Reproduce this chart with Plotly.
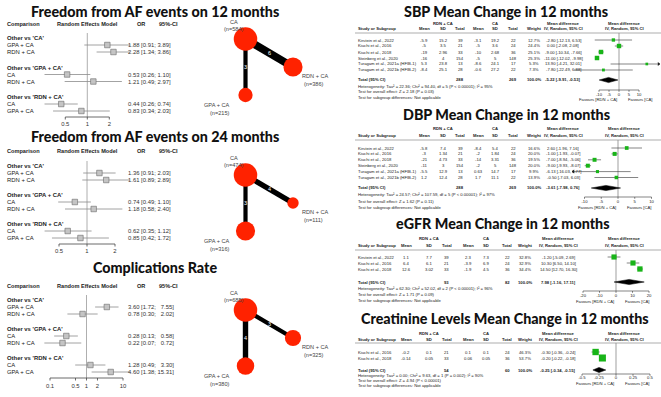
import math
import plotly.graph_objects as go

W, H = 661, 397

# ---------------- data: left forest plots (network meta-analysis) ----------------
comparison_groups = ["Other vs 'CA'", "Other vs 'GPA + CA'", "Other vs 'RDN + CA'"]
comparison_rows = [["GPA + CA", "RDN + CA"], ["CA", "RDN + CA"], ["CA", "GPA + CA"]]

af12_title = "Freedom from AF events on 12 months"
af12_or = [1.88, 2.28, 0.53, 1.21, 0.44, 0.83]
af12_lo = [0.91, 1.34, 0.26, 0.49, 0.26, 0.34]
af12_hi = [3.89, 3.86, 1.10, 2.97, 0.74, 2.03]
af12_ticks = [0.5, 1, 2]

af24_title = "Freedom from AF events on 24 months"
af24_or = [1.36, 1.61, 0.74, 1.18, 0.62, 0.85]
af24_lo = [0.91, 0.89, 0.49, 0.58, 0.35, 0.42]
af24_hi = [2.03, 2.89, 1.10, 2.40, 1.12, 1.72]
af24_ticks = [0.5, 1, 2]

comp_title = "Complications Rate"
comp_or = [3.60, 0.78, 0.28, 0.22, 1.28, 4.60]
comp_lo = [1.72, 0.30, 0.13, 0.07, 0.49, 1.38]
comp_hi = [7.55, 2.02, 0.58, 0.72, 3.30, 15.31]
comp_ticks = [0.1, 0.5, 1, 2, 10]

# ---------------- data: network graphs ----------------
treatments = ["CA", "RDN + CA", "GPA + CA"]
af12_n = [584, 386, 215]
af12_studies = [6, 3]   # CA - RDN + CA, CA - GPA + CA
af24_n = [474, 111, 316]
af24_studies = [4, 3]
comp_n = [685, 325, 380]
comp_studies = [3, 4]

# ---------------- data: right pairwise forest plots ----------------
sbp_title = "SBP Mean Change in 12 months"
sbp_studies = ["Kirstein et al., 2022", "Kiuchi et al., 2016", "Kiuchi et al., 2018",
               "Steinberg et al., 2020", "Turagam et al., 2021a (HFIB-1)", "Turagam et al., 2021b (HFIB-2)"]
sbp_rdn_mean = [-5.9, -5, -19, -16, 5.3, -8.4]
sbp_rdn_sd = [15.2, 3.5, 2.96, 4, 23.8, 25.1]
sbp_rdn_n = [39, 21, 33, 154, 13, 28]
sbp_ca_mean = [-3.1, -5, -10, -5, -8.6, -0.6]
sbp_ca_sd = [19.2, 3.6, 2.68, 5, 24.1, 27.2]
sbp_ca_n = [22, 24, 36, 148, 17, 22]
sbp_weight = [12.7, 24.4, 25.1, 25.3, 5.3, 7.3]
sbp_md = [-2.80, 0.00, -9.00, -11.00, 13.90, -7.80]
sbp_lo = [-12.13, -2.08, -10.34, -12.02, -4.21, -22.49]
sbp_hi = [6.53, 2.08, -7.66, -9.98, 32.01, 6.88]
sbp_total = [-5.22, -9.91, -0.53]
sbp_het = "Heterogeneity: Tau² = 22.36; Chi² = 94.40, df = 5 (P < 0.00001); I² = 95%"
sbp_z = "Test for overall effect: Z = 2.18 (P = 0.03)"
sbp_ticks = [-10, -5, 0, 5, 10]

dbp_title = "DBP Mean Change in 12 months"
dbp_studies = sbp_studies
dbp_rdn_mean = [-5.8, -3, -21, -11, -5.5, 1.2]
dbp_rdn_sd = [7.4, 1.34, 4.73, 3, 12.9, 12.4]
dbp_rdn_n = [39, 21, 33, 154, 13, 28]
dbp_ca_mean = [-8.4, -2, -14, -2, 0.63, 1.7]
dbp_ca_sd = [5.4, 1.84, 3.31, 5, 14.7, 11.1]
dbp_ca_n = [22, 24, 36, 148, 17, 22]
dbp_weight = [16.6, 20.0, 19.5, 20.0, 9.9, 13.9]
dbp_md = [2.60, -1.00, -7.00, -9.00, -6.13, -0.50]
dbp_lo = [-1.96, -1.93, -8.94, -9.93, -16.03, -7.03]
dbp_hi = [7.16, -0.07, -5.06, -8.07, 3.77, 6.03]
dbp_total = [-3.61, -7.98, 0.76]
dbp_het = "Heterogeneity: Tau² = 24.57; Chi² = 107.59, df = 5 (P < 0.00001); I² = 97%"
dbp_z = "Test for overall effect: Z = 1.62 (P = 0.11)"
dbp_ticks = [-10, -5, 0, 5, 10]

egfr_title = "eGFR Mean Change in 12 months"
egfr_studies = ["Kirstein et al., 2022", "Kiuchi et al., 2016", "Kiuchi et al., 2018"]
egfr_rdn_mean = [1.1, 6.4, 12.6]
egfr_rdn_sd = [7.7, 6.1, 3.02]
egfr_rdn_n = [39, 21, 33]
egfr_ca_mean = [2.3, -3.9, -1.9]
egfr_ca_sd = [7.3, 6.9, 4.5]
egfr_ca_n = [22, 24, 36]
egfr_weight = [32.8, 32.9, 34.4]
egfr_md = [-1.20, 10.30, 14.50]
egfr_lo = [-5.09, 6.50, 12.70]
egfr_hi = [2.69, 14.10, 16.30]
egfr_total = [7.98, -1.16, 17.11]
egfr_het = "Heterogeneity: Tau² = 62.30; Chi² = 52.02, df = 2 (P < 0.00001); I² = 96%"
egfr_z = "Test for overall effect: Z = 1.71 (P = 0.09)"
egfr_ticks = [-20, -10, 0, 10, 20]

crea_title = "Creatinine Levels Mean Change in 12 months"
crea_studies = ["Kiuchi et al., 2016", "Kiuchi et al., 2018"]
crea_rdn_mean = [-0.2, -0.14]
crea_rdn_sd = [0.1, 0.05]
crea_rdn_n = [21, 33]
crea_ca_mean = [0.1, 0.06]
crea_ca_sd = [0.1, 0.05]
crea_ca_n = [24, 36]
crea_weight = [46.3, 53.7]
crea_md = [-0.30, -0.20]
crea_lo = [-0.36, -0.22]
crea_hi = [-0.24, -0.18]
crea_total = [-0.25, -0.34, -0.15]
crea_het = "Heterogeneity: Tau² = 0.00; Chi² = 9.63, df = 1 (P = 0.002); I² = 90%"
crea_z = "Test for overall effect: Z = 4.94 (P < 0.00001)"
crea_ticks = [-0.5, -0.25, 0, 0.25, 0.5]

# ---------------- drawing helpers ----------------
SMALL = "Liberation Sans, Arial, sans-serif"
TITLE = "Lato, Open Sans, sans-serif"
fig = go.Figure()
anns = []
shapes = []
layout_axes = {}


def A(x, y, text, size=6, bold=False, align="left", color="#222", family=SMALL, xref="paper", yref="paper"):
    ax = x / W if xref == "paper" else x
    ay = 1 - y / H if yref == "paper" else y
    w = bold if isinstance(bold, int) and not isinstance(bold, bool) else (700 if bold else 400)
    anns.append(dict(x=ax, y=ay, xref=xref, yref=yref, text=text, showarrow=False,
                     xanchor=align, yanchor="middle", borderpad=0,
                     font=dict(size=size, color=color, family=family, weight=w)))


def hline(x0, x1, y, color="#888", width=0.6):
    shapes.append(dict(type="line", xref="paper", yref="paper", x0=x0 / W, x1=x1 / W,
                       y0=1 - y / H, y1=1 - y / H, line=dict(color=color, width=width)))


def seg_trace(xs0, xs1, ys0, ys1, ax, color, width):
    xx, yy = [], []
    for a, b, c, d in zip(xs0, xs1, ys0, ys1):
        xx += [a, b, None]
        yy += [c, d, None]
    fig.add_trace(go.Scatter(x=xx, y=yy, xaxis=ax, yaxis="y", mode="lines",
                             line=dict(color=color, width=width), hoverinfo="skip", showlegend=False))


# ---------------- left forest plots ----------------
LX0, LX1 = 28, 152


def left_forest(axn, title, ors, los, his, ticks, P):
    ax = f"x{axn}"
    one, ppd = P["one"], P["ppd"]
    layout_axes[f"xaxis{axn}"] = dict(domain=[LX0 / W, LX1 / W], type="log",
                                      range=[(LX0 - one) / ppd, (LX1 - one) / ppd],
                                      visible=False, fixedrange=True)
    A(155, P["title"], title, 14.3, 900, "center", "#111", TITLE)
    A(6, P["hdr"], "Comparison", 5.6, True)
    A(87, P["hdr"], "Random Effects Model", 5.6, True, "center")
    A(141, P["hdr"], "OR", 5.6, True, "center")
    A(168, P["hdr"], "95%-CI", 5.6, True, "center")
    wid = max(len(f"{h:.2f}") for h in his)
    rows_y = []
    for g, gname in enumerate(comparison_groups):
        gy = P["groups"][g]
        A(6, gy, gname, 5.9, True)
        for k, lab in enumerate(comparison_rows[g]):
            y = gy + 7 * (k + 1)
            i = 2 * g + k
            rows_y.append(y)
            A(6, y, lab, 5.9)
            hs = f"{his[i]:.2f}"
            hs = " " * (wid - len(hs)) * 2 + hs
            A(127, y, f"{ors[i]:.2f} [{los[i]:.2f}; {hs}]", 5.9, color="#333")
    # reference line at OR = 1
    seg_trace([1], [1], [P["groups"][0] - 5], [P["axis"]], ax, "#9a9a9a", 0.8)
    # confidence intervals
    seg_trace(los, his, rows_y, rows_y, ax, "#8c8c8c", 0.8)
    # point estimates
    fig.add_trace(go.Scatter(x=ors, y=rows_y, xaxis=ax, yaxis="y", mode="markers",
                             marker=dict(symbol="square", size=5.5, color="#c4c4c4", opacity=1,
                                         line=dict(color="#6a6a6a", width=0.6)),
                             hoverinfo="skip", showlegend=False))
    # axis
    ay = P["axis"]
    seg_trace([ticks[0]], [ticks[-1]], [ay], [ay], ax, "#444", 0.8)
    seg_trace(ticks, ticks, [ay] * len(ticks), [ay + 2.5] * len(ticks), ax, "#444", 0.8)
    fig.add_trace(go.Scatter(x=ticks, y=[P["tick"]] * len(ticks), xaxis=ax, yaxis="y", mode="text",
                             text=[f"{t:g}" for t in ticks], textposition="middle center",
                             textfont=dict(size=5.9, color="#333", family=SMALL),
                             hoverinfo="skip", showlegend=False))


left_forest(2, af12_title, af12_or, af12_lo, af12_hi, af12_ticks,
            dict(title=12, hdr=24, groups=[38, 67.5, 97], axis=117, tick=125, one=87.3, ppd=73.1))
left_forest(3, af24_title, af24_or, af24_lo, af24_hi, af24_ticks,
            dict(title=137, hdr=151, groups=[166, 195, 224], axis=244, tick=252, one=87, ppd=93))
left_forest(4, comp_title, comp_or, comp_lo, comp_hi, comp_ticks,
            dict(title=267, hdr=286, groups=[300, 329, 358], axis=378, tick=387, one=86.5, ppd=36.5))

# ---------------- network graphs (pixel axis "x") ----------------
layout_axes["xaxis"] = dict(domain=[0, 1], range=[0, W], visible=False, fixedrange=True)


def network(n, studies, cy):
    pos = [(245.5, cy), (293, cy + 28), (245.5, cy + 56)]
    nmax = max(n)
    for e, j in zip(studies, [1, 2]):
        seg_trace([pos[0][0]], [pos[j][0]], [pos[0][1]], [pos[j][1]], "x", "#000", 1.2 * e + 0.6)
    fig.add_trace(go.Scatter(x=[p[0] for p in pos], y=[p[1] for p in pos], xaxis="x", yaxis="y",
                             mode="markers",
                             marker=dict(size=[23.5 * math.sqrt(v / nmax) for v in n], color="#ff2200",
                                         opacity=1, line=dict(width=0)),
                             hoverinfo="skip", showlegend=False))
    for e, j in zip(studies, [1, 2]):
        mx = (pos[0][0] + pos[j][0]) / 2
        my = (pos[0][1] + pos[j][1]) / 2
        A(mx, my, str(e), 5.5, False, "center", "#ffffff", SMALL, "x", "y")
    # node labels
    A(234, cy - 17.5, treatments[0], 5.6, False, "center", "#444", SMALL, "x", "y")
    A(234, cy - 10.5, f"(n={n[0]})", 5.6, False, "center", "#444", SMALL, "x", "y")
    A(301, cy + 37, treatments[1], 5.6, False, "left", "#444", SMALL, "x", "y")
    A(303, cy + 45, f"(n={n[1]})", 5.6, False, "left", "#444", SMALL, "x", "y")
    A(231, cy + 65.5, treatments[2], 5.6, False, "right", "#444", SMALL, "x", "y")
    A(231, cy + 73.5, f"(n={n[2]})", 5.6, False, "right", "#444", SMALL, "x", "y")


network(af12_n, af12_studies, 39)
network(af24_n, af24_studies, 175)
network(comp_n, comp_studies, 310)

# ---------------- right pairwise forest plots ----------------
RX0, RX1 = 572, 660
COLS_A = [424, 443, 460, 478, 495, 513, 534, 563]
COLS_B = [406, 429, 447, 468, 486, 507, 525, 558]


def right_forest(axn, title, studies, rm, rs, rn, cm, cs, cn, wt, md, lo, hi, tot, het, z, ticks, P):
    ax = f"x{axn}"
    zero, ppu = P["zero"], P["ppu"]
    r0, r1 = (RX0 - zero) / ppu, (RX1 - zero) / ppu
    layout_axes[f"xaxis{axn}"] = dict(domain=[RX0 / W, RX1 / W], range=[r0, r1],
                                      visible=False, fixedrange=True)
    C = P["cols"]
    fs = 4.2
    A(P["tcx"], P["title"], title, 14.3, 900, "center", "#111", TITLE)
    # headers
    A(C[1], P["h1"], "RDN + CA", fs, True, "center")
    A(C[4], P["h1"], "CA", fs, True, "center")
    A(C[7], P["h1"], "Mean difference", fs, True, "center")
    A(624, P["h1"], "Mean difference", fs, True, "center")
    A(357, P["h2"], "Study or Subgroup", fs, True)
    for c, lab in zip(C[:7], ["Mean", "SD", "Total", "Mean", "SD", "Total", "Weight"]):
        A(c, P["h2"], lab, fs, True, "center")
    A(C[7], P["h2"], "IV, Random, 95% CI", fs, True, "center")
    A(624, P["h2"], "IV, Random, 95% CI", fs, True, "center")
    hline(355, 661, P["rule"], "#8a8a8a", 0.7)
    ys = [P["row0"] + P["step"] * i for i in range(len(studies))]
    for i, y in enumerate(ys):
        A(357, y, studies[i], fs)
        vals = [f"{rm[i]:g}", f"{rs[i]:g}", f"{rn[i]}", f"{cm[i]:g}", f"{cs[i]:g}", f"{cn[i]}",
                f"{wt[i]:.1f}%", f"{md[i]:.2f} [{lo[i]:.2f}, {hi[i]:.2f}]"]
        for c, v in zip(C, vals):
            A(c, y, v, fs, False, "center")
    ty = P["total"]
    A(357, ty, "Total (95% CI)", fs, True)
    A(C[2], ty, f"{sum(rn)}", fs, True, "center")
    A(C[5], ty, f"{sum(cn)}", fs, True, "center")
    A(C[6], ty, "100.0%", fs, True, "center")
    A(C[7], ty, f"{tot[0]:.2f} [{tot[1]:.2f}, {tot[2]:.2f}]", fs, True, "center")
    A(357, P["foot"][0], het, fs)
    A(357, P["foot"][1], z, fs)
    A(357, P["foot"][2], "Test for subgroup differences: Not applicable", fs)
    # zero line
    seg_trace([0], [0], [P["rule"]], [P["axis"]], ax, "#777", 0.7)
    # CIs (clipped to axis range) and arrows
    seg_trace([max(l, r0) for l in lo], [min(h, r1) for h in hi], ys, ys, ax, "#333", 0.6)
    la = [(r0 + 0.015 * (r1 - r0), y) for l, y in zip(lo, ys) if l < r0]
    ra = [(r1 - 0.015 * (r1 - r0), y) for h, y in zip(hi, ys) if h > r1]
    if la:
        fig.add_trace(go.Scatter(x=[a[0] for a in la], y=[a[1] for a in la], xaxis=ax, yaxis="y",
                                 mode="markers", marker=dict(symbol="triangle-left", size=3.5, color="#222"),
                                 hoverinfo="skip", showlegend=False))
    if ra:
        fig.add_trace(go.Scatter(x=[a[0] for a in ra], y=[a[1] for a in ra], xaxis=ax, yaxis="y",
                                 mode="markers", marker=dict(symbol="triangle-right", size=3.5, color="#222"),
                                 hoverinfo="skip", showlegend=False))
    fig.add_trace(go.Scatter(x=md, y=ys, xaxis=ax, yaxis="y", mode="markers",
                             marker=dict(symbol="square", size=[2.2 + 0.09 * w for w in wt],
                                         color="#18b418", opacity=1, line=dict(width=0)),
                             hoverinfo="skip", showlegend=False))
    # diamond
    fig.add_trace(go.Scatter(x=[tot[1], tot[0], tot[2], tot[0], tot[1]],
                             y=[ty, ty - 2.6, ty, ty + 2.6, ty], xaxis=ax, yaxis="y",
                             mode="lines", fill="toself", fillcolor="#000", line=dict(color="#000", width=0.5),
                             hoverinfo="skip", showlegend=False))
    # axis
    ay = P["axis"]
    seg_trace([ticks[0]], [ticks[-1]], [ay], [ay], ax, "#333", 0.6)
    seg_trace(ticks, ticks, [ay] * len(ticks), [ay + 1.8] * len(ticks), ax, "#333", 0.6)
    fig.add_trace(go.Scatter(x=ticks, y=[P["tick"]] * len(ticks), xaxis=ax, yaxis="y", mode="text",
                             text=[f"{t:g}" for t in ticks], textposition="middle center",
                             textfont=dict(size=fs, color="#222", family=SMALL),
                             hoverinfo="skip", showlegend=False))
    A(zero - 21, P["fav"], "Favours [RDN + CA]", fs, False, "center")
    A(zero + 21, P["fav"], "Favours [CA]", fs, False, "center")


right_forest(5, sbp_title, sbp_studies, sbp_rdn_mean, sbp_rdn_sd, sbp_rdn_n, sbp_ca_mean, sbp_ca_sd,
             sbp_ca_n, sbp_weight, sbp_md, sbp_lo, sbp_hi, sbp_total, sbp_het, sbp_z, sbp_ticks,
             dict(title=12, tcx=506, h1=23, h2=29, rule=33, row0=40, step=6, total=80,
                  foot=[86, 91.5, 97], axis=90, tick=94.5, fav=99, zero=619, ppu=2.0, cols=COLS_A))
right_forest(6, dbp_title, dbp_studies, dbp_rdn_mean, dbp_rdn_sd, dbp_rdn_n, dbp_ca_mean, dbp_ca_sd,
             dbp_ca_n, dbp_weight, dbp_md, dbp_lo, dbp_hi, dbp_total, dbp_het, dbp_z, dbp_ticks,
             dict(title=115, tcx=506, h1=129, h2=135.5, rule=140, row0=148, step=5.9, total=188,
                  foot=[194.5, 201, 207], axis=197, tick=201.5, fav=207, zero=618, ppu=3.35, cols=COLS_A))
right_forest(7, egfr_title, egfr_studies, egfr_rdn_mean, egfr_rdn_sd, egfr_rdn_n, egfr_ca_mean, egfr_ca_sd,
             egfr_ca_n, egfr_weight, egfr_md, egfr_lo, egfr_hi, egfr_total, egfr_het, egfr_z, egfr_ticks,
             dict(title=223, tcx=502, h1=238, h2=245, rule=250, row0=257, step=6, total=282,
                  foot=[288, 294, 300.5], axis=291, tick=295.5, fav=301, zero=616, ppu=1.65, cols=COLS_B))
right_forest(8, crea_title, crea_studies, crea_rdn_mean, crea_rdn_sd, crea_rdn_n, crea_ca_mean, crea_ca_sd,
             crea_ca_n, crea_weight, crea_md, crea_lo, crea_hi, crea_total, crea_het, crea_z, crea_ticks,
             dict(title=318, tcx=505, h1=333, h2=339, rule=343, row0=352, step=6, total=370,
                  foot=[375, 380, 385], axis=374, tick=378, fav=383, zero=616, ppu=68, cols=COLS_B))

fig.update_layout(
    width=W, height=H, autosize=False,
    margin=dict(l=0, r=0, t=0, b=0),
    paper_bgcolor="#ffffff", plot_bgcolor="rgba(0,0,0,0)",
    showlegend=False,
    yaxis=dict(domain=[0, 1], range=[H, 0], visible=False, fixedrange=True),
    annotations=anns, shapes=shapes,
    **layout_axes,
)
fig.write_html("out.html", config={"displayModeBar": False, "staticPlot": True})
